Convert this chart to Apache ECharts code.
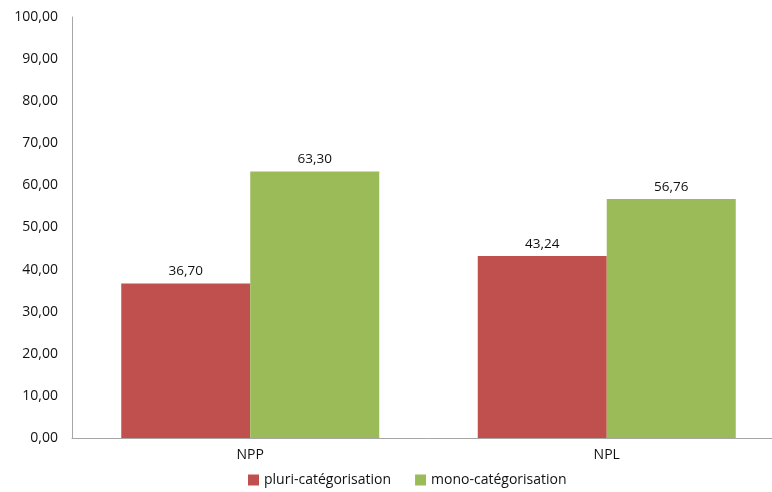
<!DOCTYPE html>
<html>
<head>
<meta charset="utf-8">
<script src="https://cdn.jsdelivr.net/npm/echarts@6/dist/echarts.min.js"></script>
<style>
  html, body { margin: 0; padding: 0; background: #fff; overflow: hidden; }
  #chart { width: 786px; height: 492px; }
</style>
</head>
<body>
<div id="chart"></div>
<script>
// données
var categories = ["NPP", "NPL"];
var pluri = [36.70, 43.24];
var mono = [63.30, 56.76];
var seriesNames = ["pluri-catégorisation", "mono-catégorisation"];

function fr(v) {
  return Number(v).toFixed(2).replace(".", ",");
}

var chart = echarts.init(document.getElementById("chart"));
var font = "'Open Sans', 'Liberation Sans', sans-serif";

var option = {
  animation: false,
  textStyle: { fontFamily: font },
  grid: { left: 72, right: 1, top: 17, bottom: 54, containLabel: false },
  legend: {
    bottom: 0,
    left: 243,
    itemWidth: 11,
    itemHeight: 11,
    itemGap: 24,
    icon: "rect",
    textStyle: { fontFamily: font, fontSize: 14, color: "#111" },
    data: seriesNames,
  },
  xAxis: {
    type: "category",
    data: categories,
    axisLine: { lineStyle: { color: "#a6a6a6", width: 1 } },
    axisTick: { show: false },
    axisLabel: { color: "#111", fontSize: 14, margin: 10, fontFamily: font },
  },
  yAxis: {
    type: "value",
    min: 0,
    max: 100,
    interval: 10,
    axisLine: { show: true, lineStyle: { color: "#a6a6a6", width: 1 } },
    axisTick: { show: false },
    splitLine: { show: false },
    axisLabel: {
      color: "#111",
      fontSize: 14,
      margin: 14,
      fontFamily: font,
      formatter: function (v) { return fr(v); },
    },
  },
  series: [
    {
      name: seriesNames[0],
      type: "bar",
      data: pluri,
      barWidth: 129,
      barGap: "0%",
      itemStyle: { color: "#c0504d" },
      label: {
        show: true,
        position: "top",
        distance: 5,
        color: "#111",
        fontSize: 13.5,
        fontFamily: font,
        formatter: function (p) { return fr(p.value); },
      },
    },
    {
      name: seriesNames[1],
      type: "bar",
      data: mono,
      barWidth: 129,
      barGap: "0%",
      itemStyle: { color: "#9bbb59" },
      label: {
        show: true,
        position: "top",
        distance: 5,
        color: "#111",
        fontSize: 13.5,
        fontFamily: font,
        formatter: function (p) { return fr(p.value); },
      },
    },
  ],
};
chart.setOption(option);
</script>
</body>
</html>
